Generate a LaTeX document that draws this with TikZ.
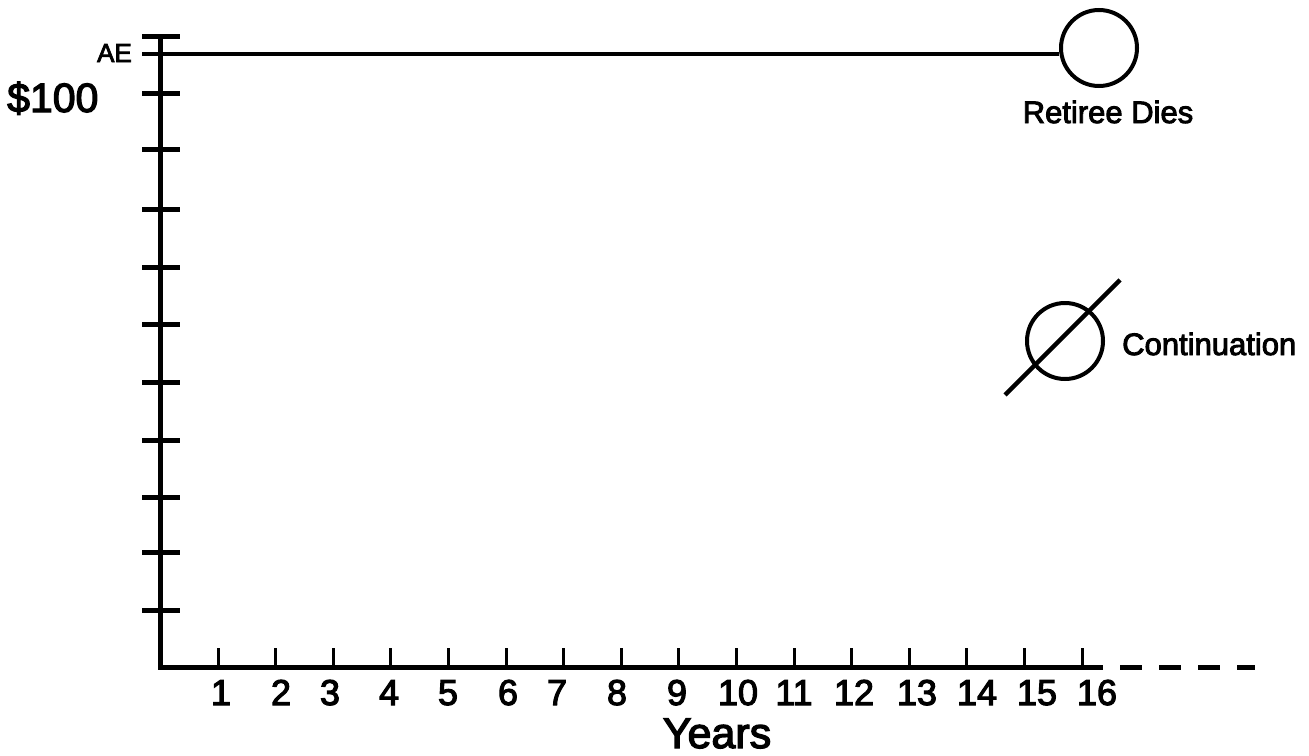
\documentclass[tikz,border=0pt]{standalone}
\usepackage{fontspec}
\setmainfont{Liberation Sans}
\newfontfamily\heavy[FakeBold=3]{Liberation Sans}
\begin{document}
\begin{tikzpicture}[x=1pt,y=-1pt,
  axisline/.style={line width=5pt, line join=miter},
  ytick/.style={line width=5pt},
  xtick/.style={line width=3pt},
  ring/.style={circle, draw, line width=4pt, minimum size=76pt, inner sep=0pt},
  numlab/.style={anchor=base, inner sep=0pt, font=\heavy\fontsize{36}{36}\selectfont},
  lab/.style={inner sep=0pt, font=\heavy\fontsize{31}{31}\selectfont}]
\useasboundingbox (0,0) rectangle (1309,755);
% axes
\coordinate (ytop) at (160,36);
\coordinate (orig) at (160,667);
\coordinate (xend) at (1103,667);
\coordinate (dstart) at (1120,667);
\coordinate (dend) at (1255,667);
\draw[axisline] (ytop) -- (orig) -- (xend);
\draw[line width=5pt, dash pattern=on 22pt off 17pt] (dstart) -- (dend);
% y ticks
\foreach \y [count=\i] in {36,93,149,209,267,324,382,440,497,552,610}
  \draw[ytick] (142,\y) -- (180,\y);
% AE line and Retiree Dies circle
\node[ring] (rd) at (1099,48) {};
\coordinate (ae) at (142,54);
\draw[line width=4.5pt] (ae) -- (ae -| rd.west);
\node[lab, anchor=base] (rdl) at (1108,123) {Retiree Dies};
% Continuation symbol
\node[ring] (cn) at (1065,341) {};
\coordinate (sa) at (1005,395);
\coordinate (sb) at (1120,280);
\draw[line width=4.5pt] (sa) -- (sb);
\node[lab, anchor=base west] (cnl) at (1122,355) {Continuation};
% y labels
\node[anchor=base east, inner sep=0pt, font=\heavy\fontsize{26}{26}\selectfont] (ael) at (132,62) {AE};
\node[anchor=base west, inner sep=0pt, font=\heavy\fontsize{41}{41}\selectfont] (hund) at (7,112) {\$100};
% x ticks and labels
\foreach \n/\lx in {1/221,2/281,3/330,4/389,5/448,6/508,7/557,8/617,9/677,10/738,11/794,12/854,13/917,14/977,15/1037,16/1097} {
  \pgfmathsetmacro{\tx}{218+(\n-1)*57.6}
  \draw[xtick] (\tx,667) -- (\tx,648);
  \node[numlab] (x\n) at (\lx,705) {\n};
}
\node[anchor=base, inner sep=0pt, font=\heavy\fontsize{43}{43}\selectfont] (years) at (717,748) {Years};
\end{tikzpicture}
\end{document}
